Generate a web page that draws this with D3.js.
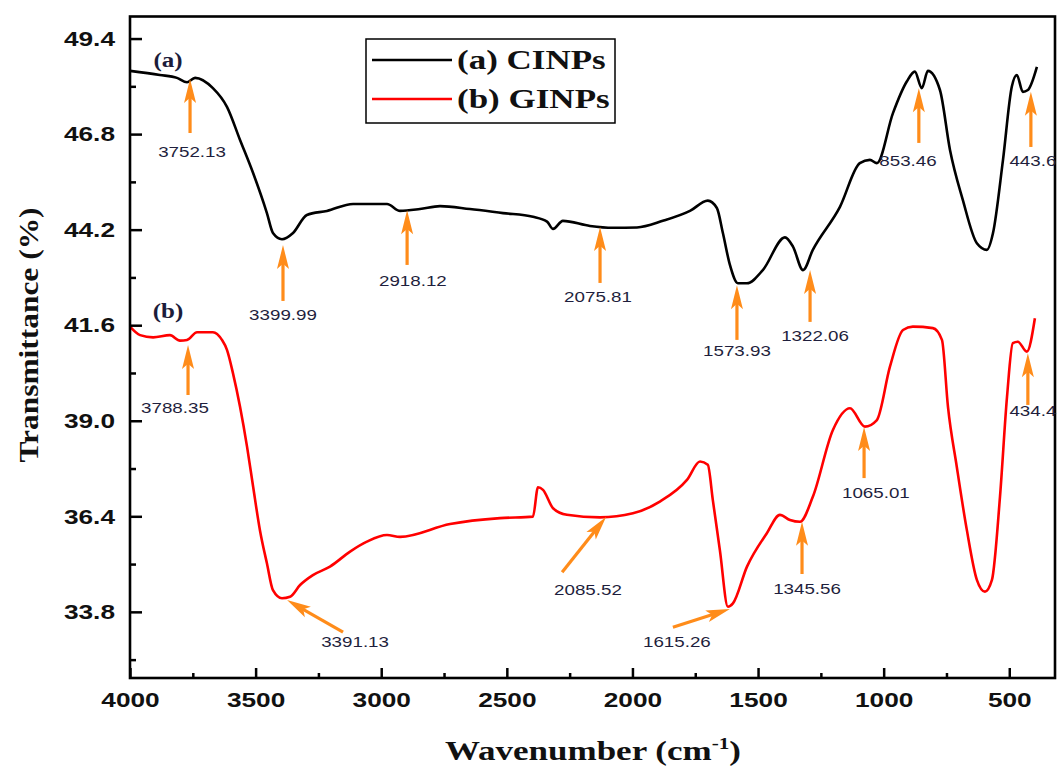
<!DOCTYPE html>
<html>
<head>
<meta charset="utf-8">
<script src="https://cdn.jsdelivr.net/npm/d3@7"></script>
<style>
  body { margin: 0; background: #fff; }
  svg { display: block; }
</style>
</head>
<body>
<svg id="chart" width="1061" height="773"></svg>
<script>
// FTIR spectra of CINPs and GINPs

// curve (a) CINPs
const cinpsWave = [4000, 3881, 3813, 3773, 3741, 3670, 3614, 3562, 3510, 3455, 3431, 3395, 3351, 3296, 3216,
    3112, 2977, 2925, 2846, 2766, 2647, 2515, 2396, 2340, 2316, 2277, 2169, 2078, 1982, 1879,
    1771, 1700, 1664, 1640, 1612, 1580, 1544, 1481, 1393, 1361, 1321, 1282, 1174, 1095, 1055,
    1027, 963, 908, 876, 848, 824, 776, 736, 685, 629, 589, 565, 525, 490, 470, 446, 426, 390];
const cinpsT = [48.52, 48.41, 48.33, 48.21, 48.33, 48.05, 47.54, 46.64, 45.74, 44.65, 44.11, 43.94, 44.11, 44.60, 44.71,
    44.90, 44.90, 44.71, 44.76, 44.84, 44.76, 44.65, 44.55, 44.42, 44.22, 44.44, 44.30, 44.25, 44.26, 44.44,
    44.71, 44.99, 44.79, 44.11, 43.24, 42.74, 42.74, 43.10, 43.99, 43.74, 43.10, 43.65, 44.82, 46.01, 46.10,
    46.01, 47.37, 48.23, 48.50, 48.05, 48.52, 48.00, 46.37, 45.01, 43.83, 43.65, 44.10, 46.10, 48.09, 48.41, 47.95, 48.00, 48.63];

// curve (b) GINPs
const ginpsWave = [4000, 3960, 3908, 3841, 3801, 3773, 3733, 3670, 3634, 3614, 3590, 3562, 3534, 3510, 3483,
    3455, 3431, 3395, 3363, 3323, 3272, 3204, 3124, 3057, 2977, 2925, 2726, 2527, 2396, 2376,
    2356, 2316, 2261, 2129, 1998, 1891, 1783, 1731, 1700, 1680, 1652, 1620, 1600, 1544, 1465,
    1413, 1373, 1333, 1282, 1202, 1134, 1075, 1027, 975, 923, 884, 804, 768, 744, 709,
    669, 629, 597, 569, 537, 509, 486, 466, 430, 398];
const ginpsT = [41.56, 41.33, 41.27, 41.33, 41.18, 41.20, 41.41, 41.41, 41.20, 40.93, 40.29, 39.38, 38.29, 37.21, 36.03,
    35.12, 34.39, 34.17, 34.21, 34.53, 34.80, 35.03, 35.44, 35.71, 35.89, 35.84, 36.19, 36.35, 36.39, 37.19,
    37.12, 36.62, 36.44, 36.37, 36.48, 36.80, 37.39, 37.89, 37.80, 36.84, 35.48, 33.94, 34.03, 35.03, 35.94,
    36.44, 36.30, 36.25, 36.93, 38.75, 39.34, 38.84, 39.02, 40.47, 41.47, 41.56, 41.52, 41.20, 39.38, 37.75,
    36.03, 34.67, 34.35, 34.67, 36.93, 39.65, 41.11, 41.15, 40.88, 41.79];

// ticks
const xTicksMajor = [4000, 3500, 3000, 2500, 2000, 1500, 1000, 500];
const xTicksMinor = [3750, 3250, 2750, 2250, 1750, 1250, 750];
const yTicksMajor = [33.8, 36.4, 39.0, 41.6, 44.2, 46.8, 49.4];
const yTicksMinor = [32.5, 35.1, 37.7, 40.3, 42.9, 45.5, 48.1];

const seriesNames = ["(a) CINPs", "(b) GINPs"];
const seriesColors = ["#000000", "#ff0000"];

// peak annotations: label, arrow head (hx, hy), arrow tail (tx, ty), label centre (lx, ly) in data units
const peakLabels = ["3752.13", "3399.99", "2918.12", "2075.81", "1573.93", "1322.06", "853.46", "443.6",
    "3788.35", "3391.13", "2085.52", "1615.26", "1345.56", "1065.01", "434.4"];
const peakHead = [[3761, 48.30], [3391, 43.78], [2897, 44.73], [2129, 44.27], [1584, 42.69], [1293, 43.10], [860, 48.05], [414, 47.95],
    [3769, 41.06], [3375, 34.12], [2105, 36.38], [1612, 33.88], [1325, 36.25], [1078, 38.83], [426, 40.84]];
const peakTail = [[3761, 46.83], [3391, 42.26], [2897, 43.24], [2129, 42.75], [1584, 41.20], [1293, 41.69], [860, 46.56], [414, 46.45],
    [3769, 39.70], [3152, 33.25], [2280, 34.88], [1839, 33.38], [1325, 34.83], [1078, 37.44], [426, 39.43]];
const peakText = [[3753, 46.31], [3391, 41.88], [2874, 42.80], [2137, 42.37], [1584, 40.90], [1273, 41.31], [903, 46.07], [406, 46.07],
    [3821, 39.35], [3104, 32.98], [2177, 34.39], [1823, 32.99], [1305, 34.42], [1031, 37.03], [406, 39.27]];

document.addEventListener("DOMContentLoaded", function() {
    const svg = d3.select("#chart");
    const left = 130, right = 1055, top = 16.5, bottom = 678;
    const K = 1.25; // the source picture is stretched sideways

    function stretch(sel, k) {
        sel.each(function() {
            const w = this.getComputedTextLength();
            this.setAttribute("textLength", w * k);
            this.setAttribute("lengthAdjust", "spacingAndGlyphs");
        });
    }

    const x = d3.scaleLinear().domain([4000, 318]).range([left, right]);
    const y = d3.scaleLinear().domain([32, 50]).range([bottom, top]);

    // curves
    const line = d3.line()
        .x(d => x(d[0]))
        .y(d => y(d[1]))
        .curve(d3.curveMonotoneX);

    const seriesA = cinpsWave.map((w, i) => [w, cinpsT[i]]);
    const seriesB = ginpsWave.map((w, i) => [w, ginpsT[i]]);

    [seriesA, seriesB].forEach((s, i) => {
        svg.append("path")
            .datum(s)
            .attr("d", line)
            .attr("fill", "none")
            .attr("stroke", seriesColors[i])
            .attr("stroke-width", 2.6)
            .attr("stroke-linejoin", "round");
    });

    // axes, ticks point inward
    const xMajor = svg.append("g")
        .attr("transform", `translate(0, ${bottom})`)
        .call(d3.axisBottom(x).tickValues(xTicksMajor).tickSize(-10).tickPadding(14).tickFormat(d3.format("d")));
    svg.append("g")
        .attr("transform", `translate(0, ${bottom})`)
        .call(d3.axisBottom(x).tickValues(xTicksMinor).tickSize(-5).tickFormat(""));
    const yMajor = svg.append("g")
        .attr("transform", `translate(${left}, 0)`)
        .call(d3.axisLeft(y).tickValues(yTicksMajor).tickSize(-12).tickPadding(15).tickFormat(d3.format(".1f")));
    svg.append("g")
        .attr("transform", `translate(${left}, 0)`)
        .call(d3.axisLeft(y).tickValues(yTicksMinor).tickSize(-6).tickFormat(""));

    svg.selectAll(".domain").remove();
    svg.selectAll(".tick line").attr("stroke", "#000").attr("stroke-width", 2.5);
    [xMajor, yMajor].forEach(g => {
        g.selectAll("text")
            .attr("font-family", "Liberation Sans, Arial, sans-serif")
            .attr("font-weight", "bold")
            .attr("font-size", 21)
            .attr("fill", "#111");
        stretch(g.selectAll("text"), K);
    });

    // frame
    svg.append("rect")
        .attr("x", left).attr("y", top)
        .attr("width", right - left).attr("height", bottom - top)
        .attr("fill", "none").attr("stroke", "#000").attr("stroke-width", 2.6);

    // axis titles
    const xt = svg.append("text")
        .attr("x", 593).attr("y", 760)
        .attr("text-anchor", "middle")
        .attr("font-family", "Liberation Serif, Times New Roman, serif")
        .attr("font-weight", "bold").attr("font-size", 28).attr("fill", "#111");
    xt.append("tspan").text("Wavenumber (cm");
    xt.append("tspan").attr("font-size", 17).attr("dy", -11).text("-1");
    xt.append("tspan").attr("dy", 11).text(")");
    stretch(xt, K);

    svg.append("text")
        .attr("transform", "translate(38, 335) rotate(-90)")
        .attr("text-anchor", "middle")
        .attr("font-family", "Liberation Serif, Times New Roman, serif")
        .attr("font-weight", "bold").attr("font-size", 28).attr("fill", "#111")
        .attr("textLength", 255).attr("lengthAdjust", "spacingAndGlyphs")
        .text("Transmittance (%)");

    // curve tags
    ["(a)", "(b)"].forEach((t, i) => {
        const tag = svg.append("text")
            .attr("x", 168).attr("y", i === 0 ? 67 : 318)
            .attr("text-anchor", "middle")
            .attr("font-family", "Liberation Serif, Times New Roman, serif")
            .attr("font-weight", "bold").attr("font-size", 20).attr("fill", "#1c1c3a")
            .text(t);
        stretch(tag, K);
    });

    // peak arrows
    const orange = "#ff8c1a";
    peakLabels.forEach((lab, i) => {
        const hx = x(peakHead[i][0]), hy = y(peakHead[i][1]);
        const tx = x(peakTail[i][0]), ty = y(peakTail[i][1]);
        const dx = hx - tx, dy = hy - ty, len = Math.hypot(dx, dy);
        const ux = dx / len, uy = dy / len, nx = -uy, ny = ux;
        const L = 24, W = 6;
        svg.append("line")
            .attr("x1", tx).attr("y1", ty)
            .attr("x2", hx - ux * 10).attr("y2", hy - uy * 10)
            .attr("stroke", orange).attr("stroke-width", 3.2);
        const pts = [
            [hx, hy],
            [hx - ux * L + nx * W, hy - uy * L + ny * W],
            [hx - ux * L * 0.78, hy - uy * L * 0.78],
            [hx - ux * L - nx * W, hy - uy * L - ny * W]
        ];
        svg.append("path")
            .attr("d", "M" + pts.map(p => p.join(",")).join("L") + "Z")
            .attr("fill", orange);
        const lt = svg.append("text")
            .attr("x", x(peakText[i][0])).attr("y", y(peakText[i][1]))
            .attr("dy", "0.35em")
            .attr("text-anchor", "middle")
            .attr("font-family", "Liberation Sans, Arial, sans-serif")
            .attr("font-size", 15).attr("fill", "#1f1f3d")
            .text(lab);
        stretch(lt, K);
    });

    // legend
    const lg = svg.append("g");
    lg.append("rect")
        .attr("x", 366).attr("y", 39).attr("width", 249).attr("height", 84)
        .attr("fill", "#fff").attr("stroke", "#000").attr("stroke-width", 1.5);
    seriesNames.forEach((name, i) => {
        const ly = 60 + i * 39;
        lg.append("line")
            .attr("x1", 372).attr("x2", 452).attr("y1", ly).attr("y2", ly)
            .attr("stroke", seriesColors[i]).attr("stroke-width", 2.6);
        const t = lg.append("text")
            .attr("x", 457).attr("y", ly + 9)
            .attr("font-family", "Liberation Serif, Times New Roman, serif")
            .attr("font-weight", "bold").attr("font-size", 28).attr("fill", "#111")
            .text(name);
        stretch(t, K);
    });
});
</script>
</body>
</html>
